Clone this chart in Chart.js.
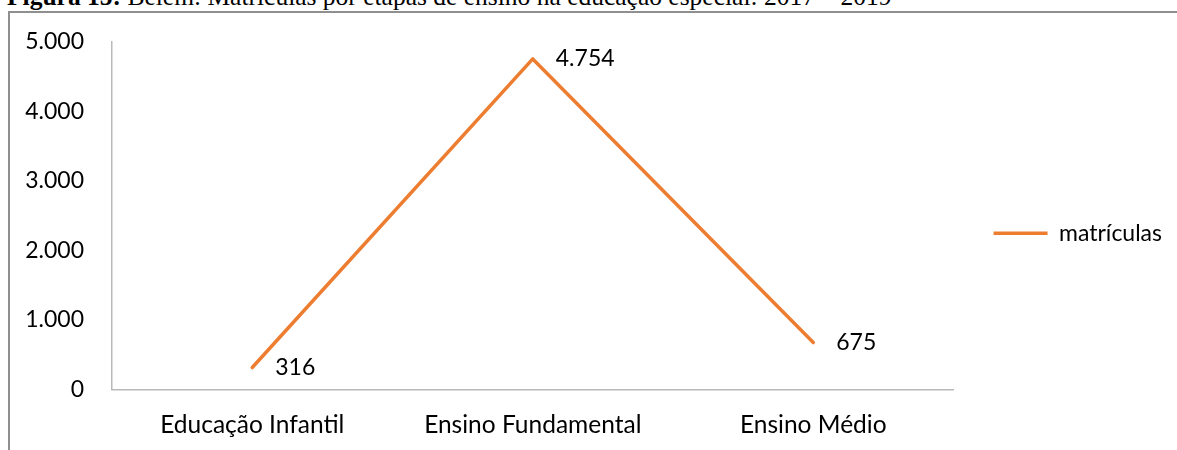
<!DOCTYPE html>
<html>
<head>
<meta charset="utf-8">
<script src="https://cdn.jsdelivr.net/npm/chart.js@4.4.1/dist/chart.umd.min.js"></script>
<style>
  html, body { margin: 0; padding: 0; background: #fff; width: 1177px; height: 450px; overflow: hidden; position: relative; }
  #title { position: absolute; left: 7px; top: -16px; font-family: "Liberation Serif", "Times New Roman", serif; font-size: 25.5px; line-height: 26px; white-space: nowrap; color: #000; }
  #frame { position: absolute; left: 8px; top: 11px; width: 1300px; height: 600px; border-left: 2px solid #8f8f8f; border-top: 2px solid #8f8f8f; }
  #wrap { position: absolute; left: 0; top: 0; width: 1177px; height: 450px; }
</style>
</head>
<body>
<div id="title"><b>Figura 15:</b> Belém: Matrículas por etapas de ensino na educação especial: 2017 – 2019</div>
<div id="frame"></div>
<div id="wrap"><canvas id="chart"></canvas></div>
<script>
// Enrolments by school stage
const categories = ['Educação Infantil', 'Ensino Fundamental', 'Ensino Médio'];
const matriculas = [316, 4754, 675];
const seriesName = 'matrículas';
const yMin = 0;
const yMax = 5000;
const yStep = 1000;

const FONT = 'Lato';
const FONT_SIZE = 23;
const X_FONT_SIZE = 24.5;
const LINE_COLOR = '#ed7d31';
const AXIS_COLOR = '#b9b9b9';

// Brazilian thousands separator: 4754 -> "4.754"
function fmt(v) {
  return String(v).replace(/\B(?=(\d{3})+(?!\d))/g, '.');
}

// Value labels drawn just to the right of every point
const valueLabels = {
  id: 'valueLabels',
  afterDatasetsDraw(chart) {
    const ctx = chart.ctx;
    chart.data.datasets.forEach((ds, i) => {
      const meta = chart.getDatasetMeta(i);
      ctx.save();
      ctx.font = FONT_SIZE + 'px ' + FONT;
      ctx.fillStyle = '#000';
      ctx.textAlign = 'left';
      ctx.textBaseline = 'middle';
      meta.data.forEach((pt, j) => {
        ctx.fillText(fmt(ds.data[j]), pt.x + 23, pt.y);
      });
      ctx.restore();
    });
  }
};

function draw() {
  new Chart(document.getElementById('chart'), {
    type: 'line',
    data: {
      labels: categories,
      datasets: [{
        label: seriesName,
        data: matriculas,
        borderColor: LINE_COLOR,
        backgroundColor: LINE_COLOR,
        borderWidth: 3.5,
        borderCapStyle: 'round',
        borderJoinStyle: 'round',
        pointRadius: 0,
        pointHoverRadius: 0,
        tension: 0,
        fill: false
      }]
    },
    options: {
      responsive: true,
      maintainAspectRatio: false,
      animation: false,
      events: [],
      layout: { padding: { top: 41.5, bottom: 6.5, left: 0, right: 5 } },
      plugins: {
        tooltip: { enabled: false },
        title: { display: false },
        legend: {
          position: 'right',
          align: 'center',
          fullSize: false,
          // blank title only used as vertical spacing above the entry
          title: { display: true, text: '', font: { size: 10, lineHeight: 1 }, padding: { top: 25, bottom: 0 } },
          labels: {
            usePointStyle: true,
            pointStyle: 'line',
            pointStyleWidth: 54,
            padding: 12,
            color: '#000',
            font: { family: FONT, size: FONT_SIZE }
          }
        }
      },
      scales: {
        x: {
          type: 'category',
          offset: true,
          grid: { display: false, drawTicks: false },
          border: { display: true, color: AXIS_COLOR, width: 1.5 },
          ticks: {
            color: '#000',
            padding: 20.8,
            maxRotation: 0,
            autoSkip: false,
            font: { family: FONT, size: X_FONT_SIZE }
          },
          afterFit(scale) { scale.height = 54; }
        },
        y: {
          type: 'linear',
          position: 'left',
          min: yMin,
          max: yMax,
          grid: { display: false, drawTicks: false },
          border: { display: true, color: AXIS_COLOR, width: 1.5 },
          ticks: {
            stepSize: yStep,
            color: '#000',
            padding: 28,
            font: { family: FONT, size: FONT_SIZE },
            callback: (v) => fmt(v)
          },
          afterFit(scale) { scale.width = 112; }
        },
        // empty spacer between the plot and the legend
        gap: {
          type: 'linear',
          position: 'right',
          display: true,
          grid: { display: false, drawTicks: false },
          border: { display: false },
          ticks: { display: false },
          afterFit(scale) { scale.width = 28; }
        }
      }
    },
    plugins: [valueLabels]
  });
}

if (document.fonts && document.fonts.load) {
  document.fonts.load(FONT_SIZE + 'px ' + FONT).then(draw, draw);
} else {
  draw();
}
</script>
</body>
</html>
